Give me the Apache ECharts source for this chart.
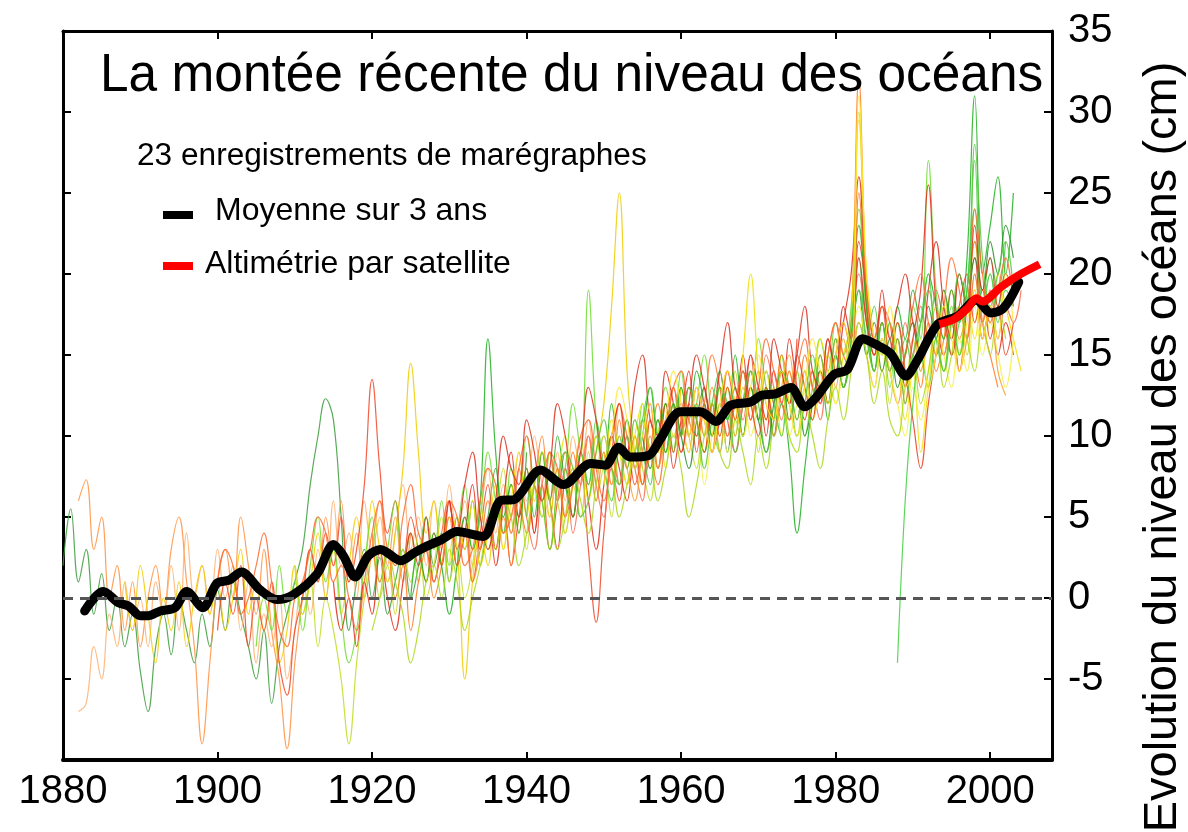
<!DOCTYPE html>
<html>
<head>
<meta charset="utf-8">
<title>La montée récente du niveau des océans</title>
<script src="https://cdn.jsdelivr.net/npm/echarts@6/dist/echarts.min.js"></script>
<style>
  html, body { margin: 0; padding: 0; background: #fff; }
  #chart { width: 1188px; height: 832px; }
</style>
</head>
<body>
<div id="chart"></div>
<script>
// axes
const yearTicks = [1880, 1900, 1920, 1940, 1960, 1980, 2000];
const levelTicks = [-5, 0, 5, 10, 15, 20, 25, 30, 35];

// moyenne sur 3 ans (noir)
const meanYears = [1882.8, 1885.2, 1887.2, 1888.5, 1890.0, 1891.0, 1892.6, 1894.5, 1896.0, 1898.1,
  1899.9, 1901.5, 1903.1, 1905.5, 1907.7, 1909.8, 1912.9, 1915.0, 1916.3, 1917.8,
  1919.5, 1921.1, 1923.7, 1925.5, 1927.1, 1929.0, 1931.0, 1934.4, 1936.6, 1938.5,
  1941.8, 1944.8, 1948.3, 1950.2, 1951.9, 1953.4, 1955.8, 1957.3, 1959.9, 1962.5,
  1964.5, 1966.4, 1969.0, 1970.3, 1972.2, 1974.2, 1976.0, 1977.5, 1979.8, 1981.5,
  1983.5, 1985.4, 1987.1, 1989.1, 1990.6, 1993.2, 1995.8, 1998.2, 2000.1, 2001.5,
  2002.5, 2003.7];
const meanValues = [-0.8, 0.4, -0.3, -0.5, -1.1, -1.1, -0.8, -0.6, 0.4, -0.6,
  0.9, 1.1, 1.6, 0.5, -0.1, 0.2, 1.5, 3.3, 2.6, 1.3,
  2.6, 3.0, 2.3, 2.8, 3.2, 3.6, 4.1, 3.8, 6.0, 6.1,
  7.9, 7.0, 8.3, 8.2, 9.3, 8.7, 8.8, 9.8, 11.5, 11.5,
  10.9, 11.9, 12.1, 12.5, 12.6, 13.0, 11.8, 12.4, 13.8, 14.1,
  16.0, 15.6, 15.1, 13.7, 14.7, 16.9, 17.4, 18.4, 17.6, 17.8,
  18.4, 19.5];

// altimétrie par satellite (rouge)
const satYears = [1993.4, 1995.3, 1997.1, 1998.2, 1999.0, 2001.4, 2003.6, 2006.4];
const satValues = [16.9, 17.2, 17.9, 18.5, 18.3, 19.2, 19.9, 20.6];

// marégraphes : première année de chaque série, puis une valeur par an
const gaugeStarts = [1880, 1882, 1882, 1888, 1900, 1905, 1910, 1915, 1920, 1925, 1930, 1935,
  1945, 1950, 1955, 1960, 1960, 1988, 1900, 1920, 1930, 1940, 1950];

const g01 = [2, 5.5, 1, 3, -1, 1.5, -2, 0, -3, -1, -4.5, -7, -3, -1, -3.5, 0, -2, -4, -1, -3,
  0.5, -2, 1, -1, -3, -5, -2, -6.5, -3, -1, 1, 3, 7, 10, 12.3, 11, 5, -2, 1, 3,
  0, 2.5, -1, 1, 3, 0, 2, 5, 2, 4, 1, 5, 3, 6, 2, 5, 8, 4, 7, 5, 9];
const g02 = [6, 7.3, 3, 5, 0, 2, -2, 1, -3, 0, 2, -1, 3, 5, 1, -3, -9, -4,
  1, 3, 0, 5, 2, -1, 3, -2, -5, -9.3, -4, 0, 3, 1, 5, 2, 6, 1, 4, 0,
  3, 6, 2, 5, 1, 4];
const g03 = [-7, -6.5, -3, -5, -1, -3, 1, -2, 0, -3, 1, -1, 2, -2, 4, 0, 2, -1,
  3, 0, 2, -2, 1, -4, -1, -3, 0, -5, -2, 1, -1, 3, 0, 6, 2, 4, 0, 6,
  3, 5, 1, 4, 7, 3, 5, 2, 6, 3, 7, 4, 6, 2, 5, 8, 4, 7, 5, 9,
  6, 10, 7, 5, 9, 6, 10, 8, 11, 7, 10, 8, 12, 9, 11, 8];
const g04 = [1, -2, 2, -1, -4, 0, -2, 1, -3, 0, 2, -1,
  1, -2, 0, 3, -1, 1, -2, 0, -4, -2, 2, -1, 1, 4, 0, 3, -1, 2, 5, 2,
  6, 3, 1, 4, 8, 14.5, 9, 4, 6, 2, 5, 3, -5, 1, 4, 2, 6, 3, 7, 4,
  8, 6, 9, 5, 8, 4, 7, 10, 6, 9, 12, 18, 25, 14, 9, 7, 11, 8, 12, 10, 13];
const g05 = [-2, 1, -1, 2, -3, 0, -2, 1, -4, -6, -2, 0, 3, 1, 4, 2, 5, 1, 3, 7,
  13.5, 8, 4, 6, 2, 5, 3, 1, 4, 2, 6, 3, 5, 1, 4, 7, 3, 6, 2, 5,
  8, 4, 7, 3, 6, 9, 5, 8, 3, -1.5, 4, 8, 6, 10, 7, 9, 12, 8, 11, 13,
  10, 12, 9, 13, 10, 14, 11, 9, 12, 15, 11, 13, 10, 14, 12, 16];
const g06 = [-3, 0, -2, 2, -1, 1, -2, 2, 5, 1, 3, -1, -4, -2, 2,
  5, 1, 3, 6, 2, 4, 1, 5, 3, 6, 2, 4, 7, 3, 5, 9, 6, 4, 8, 6,
  10, 7, 5, 9, 6, 8, 12, 9, 19, 11, 8, 10, 7, 11, 9, 12, 8, 10, 13, 11,
  14, 10, 12, 15, 11, 9, 13, 10, 14, 12, 16, 13, 11, 15, 12, 14, 10, 13, 16, 14,
  17, 15, 18, 24, 17, 14, 16, 13, 17, 15, 18, 16, 27, 19, 16, 18, 15, 19, 22, 17,
  20, 18, 21];
const g07 = [2, -1, 1, -3, 0, -2, -5, -9, -4, 0,
  3, 0, 2, -1, 3, 1, 4, 0, 2, 5, 1, 3, 0, 2, 6, 3, 5, 8, 4, 6,
  3, 7, 5, 9, 6, 4, 7, 5, 9, 6, 8, 5, 9, 7, 10, 8, 6, 10, 12, 9,
  13, 10, 8, 12, 9, 13, 11, 14, 10, 12, 9, 13, 11, 15, 12, 10, 13, 11, 15, 12,
  16, 13, 15, 30, 18, 14, 16, 12, 15, 13, 16, 14, 17, 15, 19, 16, 18, 15, 20, 17,
  19];
const g08 = [1, -2, 0, -3, 1,
  -1, 3, 0, -2, 1, 4, 2, 5, 1, 3, 6, 2, 4, 7, 3, 5, 2, 6, 9, 5,
  7, 4, 8, 6, 3, 7, 5, 9, 6, 3, 7, 10, 8, 6, 9, 7, 11, 9, 12, 8,
  11, 14, 10, 12, 9, 11, 14, 12, 15, 11, 13, 10, 14, 12, 16, 13, 11, 14, 12, 16,
  14, 17, 20, 26, 18, 15, 17, 14, 16, 13, 16, 19, 25.5, 18, 15, 17, 14, 18, 21, 16,
  18, 15, 17, 15];
const g09 = [4, 1, 3, 0, 2, -2, 1, 3, 0, 2, 5, 2, 4, 1, 3, 6, 3, 5, 2, 6,
  4, 7, 10, 6, 8, 5, 9, 7, 10, 6, 9, 7, 11, 8, 10, 7, 9, 12, 10, 13,
  11, 9, 12, 10, 13, 11, 14, 12, 10, 13, 11, 14, 12, 15, 13, 11, 14, 12, 15, 13,
  16, 14, 17, 32, 19, 15, 17, 14, 16, 12, 15, 13, 17, 14, 16, 19, 16, 18, 22, 17,
  15, 13];
const g10 = [0, 3, 1, 4, 2, -1, 2, 5, 3, 6, 16, 9, 5, 7, 4,
  8, 5, 9, 6, 10, 7, 5, 9, 7, 10, 8, 12, 9, 11, 8, 10, 13, 10, 12, 9,
  13, 11, 14, 12, 10, 13, 11, 15, 12, 14, 11, 13, 10, 12, 9, 4, 8, 12, 14, 11,
  15, 13, 16, 23, 18, 14, 17, 15, 18, 16, 19, 17, 20, 18, 16, 19, 17, 21, 31, 20,
  23, 26, 20, 25];
const g11 = [2, 5, 3, 6, 2, 4, 7, 3, 6, 9,
  5, 8, 6, 3, 7, 10, 7, 9, 6, 10, 8, 11, 9, 7, 10, 12, 9, 11, 8, 12,
  10, 13, 11, 9, 12, 10, 13, 11, 15, 20, 14, 11, 13, 10, 14, 12, 15, 13, 16, 14,
  12, 15, 17, 29.5, 20, 16, 14, 17, 15, 11, 14, 9, 13, 16, 14, 17, 15, 18, 16, 19,
  17, 20, 18, 16, 14];
const g12 = [5, 3, 6, 4, 8,
  5, 3, 7, 9, 6, 8, 4, 7, 10, 7, 5, 9, 7, 10, 8, 6, 10, 8, 11, 9,
  12, 10, 13, 11, 9, 12, 10, 13, 11, 14, 12, 15, 13, 11, 14, 12, 15, 13, 11, 15,
  17, 14, 16, 20, 17, 15, 18, 16, 14, 17, 15, 18, 16, 19, 17, 15, 18, 16, 20, 17,
  19, 16, 18, 17, 19];
const g13 = [8, 7, 9, 7, 11,
  8, 6, 10, 8, 11, 9, 7, 11, 9, 12, 10, 13, 11, 9, 12, 14, 11, 13, 10, 13,
  11, 14, 12, 10, 13, 11, 14, 12, 15, 13, 16, 14, 17, 21, 16, 18, 15, 17, 14, 16,
  14, 17, 20, 16, 18, 15, 17, 19, 27, 18, 20, 17, 19, 18];
const g14 = [9, 7, 10, 8, 6, 9, 11, 8, 10, 12,
  9, 11, 13, 10, 12, 9, 12, 10, 13, 11, 14, 12, 10, 13, 15, 12, 14, 11, 13, 15,
  13, 16, 14, 17, 15, 13, 16, 14, 12, 15, 17, 14, 16, 18, 15, 17, 14, 16, 19, 16,
  18, 14, 12.5];
const g15 = [10, 8, 11, 9, 12,
  10, 8, 11, 13, 10, 12, 9, 12, 10, 13, 11, 9, 12, 14, 11, 13, 10, 12, 14, 12,
  15, 13, 16, 19, 15, 17, 14, 16, 13, 15, 17, 15, 18, 16, 19, 17, 20, 18, 21, 19,
  22, 20, 23, 21];
const g16 = [12, 9, 11, 7, 10, 12, 9, 11, 13, 10,
  12, 14, 11, 13, 10, 12, 14, 11, 13, 15, 12, 14, 16, 18, 15, 13, 16, 14, 12, 10,
  13, 11, 14, 17, 15, 13, 16, 14, 18, 15, 17, 15, 13, 16];
const g17 = [10, 13, 11, 9, 12, 10, 13, 11, 14, 12,
  10, 13, 11, 14, 12, 15, 13, 11, 14, 12, 15, 17, 15, 22, 19, 16, 18, 15, 17, 14,
  11, 8, 12, 15, 17, 15, 18, 20, 17, 19, 16, 18, 15, 17];
const g18 = [-4, 6, 12, 15, 13, 16, 14, 17, 15, 19, 24, 18, 21, 19, 22];
const g19 = [1, 3, 2, -1, 0, 2, 4, 1, -2, -3, 0, 1, 3, 5, 4, 1, 2, 0, -2, 1,
  4, 6, 3, 2, 5, 7, 4, 3, 1, 4, 6, 5, 2, 3, 6, 8, 7, 4, 5, 8,
  10, 7, 6, 9, 8, 5, 7, 10, 11, 8, 6, 9, 12, 10, 8, 11, 9, 7, 10, 13,
  14, 11, 10, 12, 15, 13, 10, 12, 14, 11, 13, 16, 14, 12, 11, 14, 16, 13, 12, 15,
  17, 15, 14, 25, 19, 16, 18, 17, 14, 15, 18, 20, 17, 15, 18, 21, 19, 16, 24, 20,
  17, 19, 21, 18];
const g20 = [-2, 0, 3, 1, -1, -4, -2, 1, 2, 0, 3, 1, -2, 0, 2, 4, 3, 6, 5, 2,
  4, 7, 9, 6, 3, 5, 8, 6, 4, 7, 10, 8, 5, 7, 9, 11, 9, 6, 8, 10,
  8, 5, 7, 10, 12, 9, 8, 11, 9, 7, 10, 8, 11, 13, 10, 9, 12, 10, 8, 11,
  13, 11, 14, 17, 15, 12, 14, 11, 10, 13, 15, 12, 14, 17, 13, 15, 18, 16, 14, 17,
  15, 18, 16];
const g21 = [6, 4, 7, 9, 5, 3, 6, 10, 8, 7, 11, 9, 6, 8, 12, 10, 7, 9, 13, 11,
  8, 10, 12, 9, 13, 15, 11, 10, 14, 12, 9, 12, 15, 13, 11, 14, 17, 13, 12, 15,
  13, 11, 16, 14, 12, 15, 18, 14, 13, 16, 14, 18, 16, 21, 17, 15, 19, 16, 18, 20,
  17, 15, 19, 22, 18, 16, 20, 18, 23, 19, 21, 18, 20, 19];
const g22 = [5, 8, 6, 3, 7, 9, 8, 5, 6, 9, 11, 8, 7, 10, 8, 11, 13, 10, 9, 12,
  10, 13, 11, 8, 11, 13, 12, 9, 12, 14, 12, 9, 11, 14, 13, 10, 12, 15, 13, 12,
  15, 13, 16, 19, 16, 14, 17, 14, 16, 12, 15, 17, 19, 16, 14, 17, 20, 18, 28, 21,
  18, 20, 22, 19];
const g23 = [7, 10, 13, 11, 8, 10, 12, 9, 11, 14, 12, 10, 13, 11, 9, 12, 14, 12, 10, 13,
  15, 12, 11, 14, 12, 10, 13, 16, 14, 12, 15, 17, 15, 31, 20, 16, 15, 18, 15, 13,
  14, 16, 13, 15, 18, 16, 14, 17, 19, 16, 18, 16, 20, 17];

const gauges = [g01, g02, g03, g04, g05, g06, g07, g08, g09, g10, g11, g12,
  g13, g14, g15, g16, g17, g18, g19, g20, g21, g22, g23];

// couleurs des marégraphes
const gaugeColors = ['#3c9c3c', '#ff9040', '#ffb070', '#f0cc00', '#f04828', '#70dd30',
  '#c0dc20', '#e02a1a', '#ff7a20', '#20b020', '#f0e000', '#f86a50',
  '#44cc44', '#f5a030', '#2a8c2a', '#f4ee40', '#e84020', '#40d040',
  '#ff6a30', '#a8d818', '#d83020', '#58c838', '#ffe830'];

const FONT = '"Liberation Sans", Arial, Helvetica, sans-serif';

const chart = echarts.init(document.getElementById('chart'));

const series = gauges.map(function (vals, k) {
  const s = {
    type: 'line',
    data: vals.map(function (v, i) { return [gaugeStarts[k] + i, v]; }),
    showSymbol: false,
    smooth: 0.4,
    silent: true,
    z: 2,
    lineStyle: { width: 1.2, color: gaugeColors[k], opacity: 0.85 }
  };
  if (k === gauges.length - 1) {
    s.markLine = {
      silent: true,
      symbol: 'none',
      label: { show: false },
      lineStyle: { color: '#555', width: 3, type: [10, 7], opacity: 1 },
      data: [{ yAxis: 0 }]
    };
  }
  return s;
});

series.push({
  type: 'line',
  name: 'Moyenne sur 3 ans',
  data: meanYears.map(function (y, i) { return [y, meanValues[i]]; }),
  showSymbol: false,
  smooth: 0.3,
  z: 4,
  lineStyle: { width: 9, color: '#000', cap: 'round', join: 'round' }
});
series.push({
  type: 'line',
  name: 'Altimétrie par satellite',
  data: satYears.map(function (y, i) { return [y, satValues[i]]; }),
  showSymbol: false,
  smooth: 0.3,
  z: 5,
  lineStyle: { width: 8, color: '#ff0000', cap: 'butt', join: 'round' }
});

const boxLine = { show: true, onZero: false, lineStyle: { color: '#000', width: 3 } };
const tick = { show: true, inside: true, length: 8, lineStyle: { color: '#000', width: 2 } };

chart.setOption({
  animation: false,
  backgroundColor: '#fff',
  grid: { left: 63, right: 136, top: 31, bottom: 72 },
  xAxis: [{
    type: 'value', position: 'bottom',
    min: 1880, max: 2008, interval: 20,
    axisLine: { show: true, onZero: false, lineStyle: { color: '#000', width: 4 } },
    axisTick: tick,
    splitLine: { show: false },
    axisLabel: {
      color: '#000', fontSize: 40, fontFamily: FONT, margin: 12,
      formatter: function (v) { return yearTicks.indexOf(v) >= 0 ? String(v) : ''; }
    }
  }, {
    type: 'value', position: 'top',
    min: 1880, max: 2008, interval: 20,
    axisLine: boxLine, axisTick: tick,
    splitLine: { show: false }, axisLabel: { show: false }
  }],
  yAxis: [{
    type: 'value', position: 'right',
    min: -10, max: 35, interval: 5,
    axisLine: boxLine, axisTick: tick,
    splitLine: { show: false },
    axisLabel: {
      color: '#000', fontSize: 40, fontFamily: FONT, margin: 16,
      formatter: function (v) { return levelTicks.indexOf(v) >= 0 ? String(v) : ''; }
    }
  }, {
    type: 'value', position: 'left',
    min: -10, max: 35, interval: 5,
    axisLine: boxLine, axisTick: tick,
    splitLine: { show: false }, axisLabel: { show: false }
  }],
  graphic: [
    { type: 'text', x: 100, y: 76, z: 100, scaleX: 0.97,
      style: { text: 'La montée récente du niveau des océans', fill: '#000',
        font: '53px ' + FONT, verticalAlign: 'middle' } },
    { type: 'text', x: 137, y: 156, z: 100, scaleX: 1.02,
      style: { text: '23 enregistrements de marégraphes', fill: '#000',
        font: '31px ' + FONT, verticalAlign: 'middle' } },
    { type: 'rect', z: 100, shape: { x: 163, y: 211, width: 30, height: 8 }, style: { fill: '#000' } },
    { type: 'text', x: 215, y: 211, z: 100,
      style: { text: 'Moyenne sur 3 ans', fill: '#000',
        font: '32px ' + FONT, verticalAlign: 'middle' } },
    { type: 'rect', z: 100, shape: { x: 163, y: 262, width: 30, height: 8 }, style: { fill: '#ff0000' } },
    { type: 'text', x: 205, y: 264, z: 100,
      style: { text: 'Altimétrie par satellite', fill: '#000',
        font: '32px ' + FONT, verticalAlign: 'middle' } },
    { type: 'text', x: 1163, y: 447, z: 100, rotation: Math.PI / 2,
      style: { text: 'Evolution du niveau des océans (cm)', fill: '#000',
        font: '47px ' + FONT, align: 'center', verticalAlign: 'middle' } }
  ],
  series: series
});
</script>
</body>
</html>
